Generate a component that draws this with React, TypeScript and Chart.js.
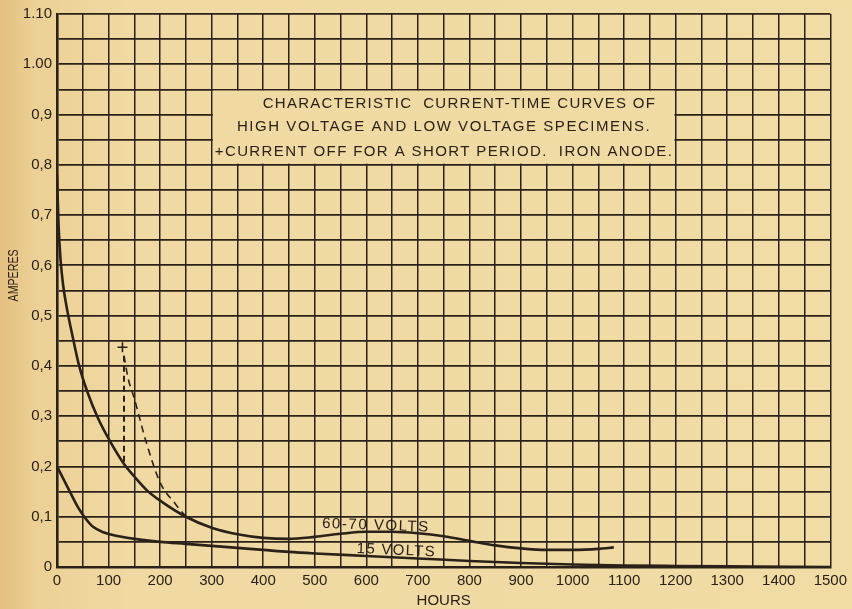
import { useEffect, useRef } from 'react';
import { Chart, registerables } from 'chart.js';

Chart.register(...registerables);

// ---- data ----
const highHours = [0, 3, 7, 12, 20, 30, 43, 60, 80, 103, 130, 150, 175, 200, 250, 300, 350, 400, 450, 500, 550, 600, 650, 700, 750, 800, 850, 900, 950, 1000, 1050, 1080];
const highAmps = [0.78, 0.68, 0.61, 0.56, 0.51, 0.46, 0.4, 0.345, 0.295, 0.25, 0.205, 0.18, 0.152, 0.132, 0.1, 0.078, 0.065, 0.058, 0.056, 0.06, 0.066, 0.07, 0.07, 0.067, 0.061, 0.052, 0.043, 0.037, 0.034, 0.034, 0.036, 0.039];

const lowHours = [0, 20, 40, 55, 70, 90, 110, 150, 200, 250, 300, 350, 400, 450, 500, 600, 700, 800, 900, 1000, 1100, 1200, 1350, 1500];
const lowAmps = [0.2, 0.16, 0.12, 0.097, 0.08, 0.069, 0.063, 0.056, 0.05, 0.046, 0.042, 0.038, 0.034, 0.03, 0.027, 0.022, 0.017, 0.012, 0.008, 0.005, 0.003, 0.002, 0.001, 0];

const offHours = [130, 138, 150, 174, 200, 230, 250];
const offAmps = [0.42, 0.375, 0.335, 0.245, 0.168, 0.125, 0.1];

const dropHours = [130, 130];
const dropAmps = [0.42, 0.205];

const markHours = [127];
const markAmps = [0.437];

const xTickLabels = ['0', '100', '200', '300', '400', '500', '600', '700', '800', '900', '1000', '1100', '1200', '1300', '1400', '1500'];
const yTickLabels = ['0', '0,1', '0,2', '0,3', '0,4', '0,5', '0,6', '0,7', '0,8', '0,9', '1.00', '1.10'];

const titleLines = [
  'CHARACTERISTIC  CURRENT-TIME CURVES OF',
  'HIGH VOLTAGE AND LOW VOLTAGE SPECIMENS.',
  '+CURRENT OFF FOR A SHORT PERIOD.  IRON ANODE.',
];
const xTitle = 'HOURS';
const yTitle = 'AMPERES';
const curveLabels = ['60-70 VOLTS', '15 VOLTS'];

const INK = '#2a2118';
const FONT = '"Liberation Sans", Arial, sans-serif';

const toPts = (xs: number[], ys: number[]) => xs.map((x, i) => ({ x, y: ys[i] }));

function paperGradient(ctx: CanvasRenderingContext2D, w: number) {
  const g = ctx.createLinearGradient(0, 0, w, 0);
  g.addColorStop(0, '#e4bf80');
  g.addColorStop(0.04, '#ecd095');
  g.addColorStop(0.15, '#f0d9a2');
  g.addColorStop(1, '#f1dca6');
  return g;
}

function drawSpaced(ctx: CanvasRenderingContext2D, text: string, x: number, y: number, target: number) {
  (ctx as any).letterSpacing = '0px';
  const w = ctx.measureText(text).width;
  const n = Array.from(text).length;
  const ls = (target - w) / Math.max(1, n - 1);
  (ctx as any).letterSpacing = ls.toFixed(2) + 'px';
  ctx.fillText(text, x, y);
  (ctx as any).letterSpacing = '0px';
}

const annotPlugin = {
  id: 'annot',
  beforeDraw(chart: any) {
    const { ctx, width, height } = chart;
    ctx.save();
    ctx.fillStyle = paperGradient(ctx, width);
    ctx.fillRect(0, 0, width, height);
    ctx.restore();
  },
  beforeDatasetsDraw(chart: any) {
    const { ctx, width } = chart;
    const { x, y } = chart.scales;
    const l = x.getPixelForValue(300);
    const r = x.getPixelForValue(1200);
    const t = y.getPixelForValue(0.95);
    const b = y.getPixelForValue(0.8);
    ctx.save();
    ctx.fillStyle = paperGradient(ctx, width);
    ctx.fillRect(l + 1.2, t + 1.2, r - l - 2.4, b - t - 2.4);
    ctx.restore();
  },
  afterDatasetsDraw(chart: any) {
    const { ctx } = chart;
    const { x, y } = chart.scales;
    ctx.save();
    ctx.fillStyle = INK;
    ctx.textBaseline = 'alphabetic';
    ctx.textAlign = 'left';
    ctx.font = `15px ${FONT}`;
    // title box text
    const starts = [399, 349, 306];
    const bases = [0.913, 0.867, 0.818];
    const widths = [392, 413, 457];
    titleLines.forEach((s, i) => {
      drawSpaced(ctx, s, x.getPixelForValue(starts[i]), y.getPixelForValue(bases[i]), widths[i]);
    });
    // curve labels (slightly tilted)
    const lab = [
      { s: curveLabels[0], hx: 514, vy: 0.078, rot: 2, w: 106 },
      { s: curveLabels[1], hx: 581, vy: 0.028, rot: 2.5, w: 78 },
    ];
    lab.forEach((o) => {
      ctx.save();
      ctx.translate(x.getPixelForValue(o.hx), y.getPixelForValue(o.vy));
      ctx.rotate((o.rot * Math.PI) / 180);
      drawSpaced(ctx, o.s, 0, 0, o.w);
      ctx.restore();
    });
    // axis titles
    ctx.textAlign = 'center';
    ctx.font = `15px ${FONT}`;
    ctx.fillText(xTitle, x.getPixelForValue(750), 605);
    ctx.save();
    ctx.translate(18, y.getPixelForValue(0.58));
    ctx.rotate(-Math.PI / 2);
    ctx.font = `14px ${FONT}`;
    const w = ctx.measureText(yTitle).width;
    ctx.scale(52 / w, 1);
    ctx.fillText(yTitle, 0, 0);
    ctx.restore();
    ctx.restore();
  },
};

export default function App() {
  const ref = useRef<HTMLCanvasElement | null>(null);
  useEffect(() => {
    const canvas = ref.current;
    if (!canvas) return;
    const chart = new Chart(canvas, {
      type: 'line',
      data: {
        datasets: [
          {
            label: '60-70 VOLTS',
            data: toPts(highHours, highAmps),
            borderColor: INK,
            borderWidth: 2.6,
            pointRadius: 0,
            cubicInterpolationMode: 'monotone',
            fill: false,
          },
          {
            label: '15 VOLTS',
            data: toPts(lowHours, lowAmps),
            borderColor: INK,
            borderWidth: 2.6,
            pointRadius: 0,
            cubicInterpolationMode: 'monotone',
            fill: false,
          },
          {
            label: 'current off',
            data: toPts(offHours, offAmps),
            borderColor: INK,
            borderWidth: 1.6,
            borderDash: [7, 5],
            pointRadius: 0,
            cubicInterpolationMode: 'monotone',
            fill: false,
          },
          {
            label: 'drop',
            data: toPts(dropHours, dropAmps),
            borderColor: INK,
            borderWidth: 2,
            borderDash: [6, 4],
            pointRadius: 0,
            fill: false,
          },
          {
            label: 'mark',
            data: toPts(markHours, markAmps),
            borderColor: INK,
            backgroundColor: INK,
            pointStyle: 'cross',
            pointRadius: 5,
            pointBorderWidth: 1.6,
            showLine: false,
          },
        ] as any,
      },
      options: {
        animation: false,
        responsive: false,
        events: [],
        layout: { padding: { top: 11, right: 21, left: 0, bottom: 0 } },
        plugins: { legend: { display: false }, tooltip: { enabled: false } },
        scales: {
          x: {
            type: 'linear',
            min: 0,
            max: 1500,
            afterFit: (s: any) => { s.height = 42; },
            grid: { color: INK, lineWidth: 1.5, drawTicks: false },
            border: { color: INK, width: 2.6 },
            ticks: {
              stepSize: 50,
              autoSkip: false,
              maxRotation: 0,
              padding: 5,
              color: INK,
              font: { family: FONT, size: 15 },
              callback: (v: any) => {
                const n = Math.round(Number(v));
                return n % 100 === 0 ? xTickLabels[n / 100] : '';
              },
            },
          },
          y: {
            type: 'linear',
            min: 0,
            max: 1.1,
            afterFit: (s: any) => { s.width = 57; },
            grid: { color: INK, lineWidth: 1.8, drawTicks: false },
            border: { color: INK, width: 2.6 },
            ticks: {
              stepSize: 0.05,
              autoSkip: false,
              padding: 5,
              color: INK,
              font: { family: FONT, size: 15 },
              callback: (v: any) => {
                const n = Math.round(Number(v) * 100);
                return n % 10 === 0 ? yTickLabels[n / 10] : '';
              },
            },
          },
        },
      },
      plugins: [annotPlugin],
    });
    return () => chart.destroy();
  }, []);
  return (
    <div style={{ position: 'fixed', left: 0, top: 0, width: 852, height: 609 }}>
      <canvas ref={ref} width={852} height={609} style={{ display: 'block', width: 852, height: 609 }} />
    </div>
  );
}
